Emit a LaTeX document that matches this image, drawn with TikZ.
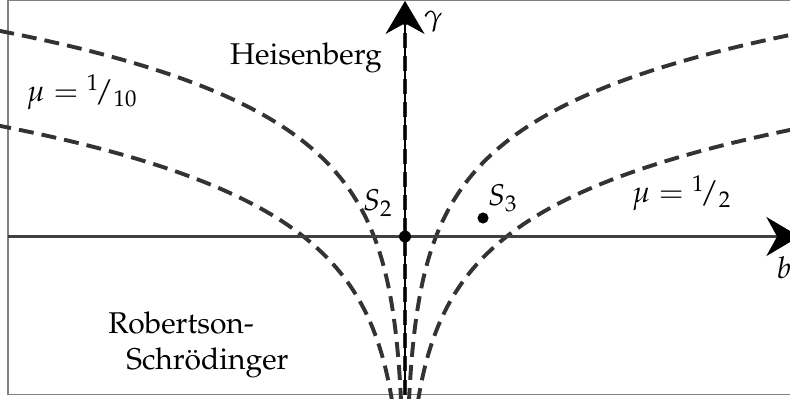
\documentclass[tikz,border=0pt]{standalone}
\usepackage[T1]{fontenc}
\usepackage{mathpazo}
\usetikzlibrary{arrows.meta}

\begin{document}
\begin{tikzpicture}[x=1cm,y=1cm,every node/.style={font=\normalsize},
  bound/.style={dash pattern=on 5pt off 2.7pt,line width=1.3pt,black!80},
  axis/.style={-{Stealth[length=11pt,width=13pt,black]},line width=0.7pt}]
  \useasboundingbox (-4.745,-1.892) rectangle (4.510,2.771);
  \clip (-4.745,-1.892) rectangle (4.510,2.771);
  \draw[gray,line width=0.5pt] (-4.651,-1.851) rectangle (4.9,2.765);
  \coordinate (O) at (0,0);
  \coordinate (bmin) at (-4.651,0);
  \coordinate (bmax) at (4.62,0);
  \coordinate (gmin) at (0,-1.851);
  \coordinate (gmax) at (0,2.76);
  \coordinate (gtop) at (0,2.5);
  \foreach \bz in {0.363,1.19}{
    \draw[bound] plot[domain=-1.95:2.8,samples=160,variable=\t] ({\bz*exp(\t/0.937)},\t);
    \draw[bound] plot[domain=-1.95:2.8,samples=160,variable=\t] ({-\bz*exp(\t/0.937)},\t);
  }
  \draw[bound] (gmin) -- (gtop);
  \draw[axis,black!75] (bmin) -- (bmax);
  \draw[axis,black,line width=0.5pt] (gmin) -- (gmax);
  \fill (O) circle (0.07);
  \fill (0.914,0.217) coordinate (s3) circle (0.065);
  \node[inner sep=1pt] (gam) at (0.33,2.52) {$\gamma$};
  \node (blab) at (4.44,-0.36) {$b$};
  \node (s2lab) at (-0.316,0.392) {$S_2$};
  \node (s3lab) at (1.148,0.451) {$S_3$};
  \node (heis) at (-1.16,2.09) {Heisenberg};
  \node (mu1) at (-3.78,1.693) {$\mu = {}^{1}\!/_{10}$};
  \node (mu2) at (3.245,0.510) {$\mu = {}^{1}\!/_{2}$};
  \node[align=left,anchor=west] (rs) at (-3.6,-1.27) {Robertson-\\\hspace{6pt}Schr\"odinger};
\end{tikzpicture}
\end{document}
